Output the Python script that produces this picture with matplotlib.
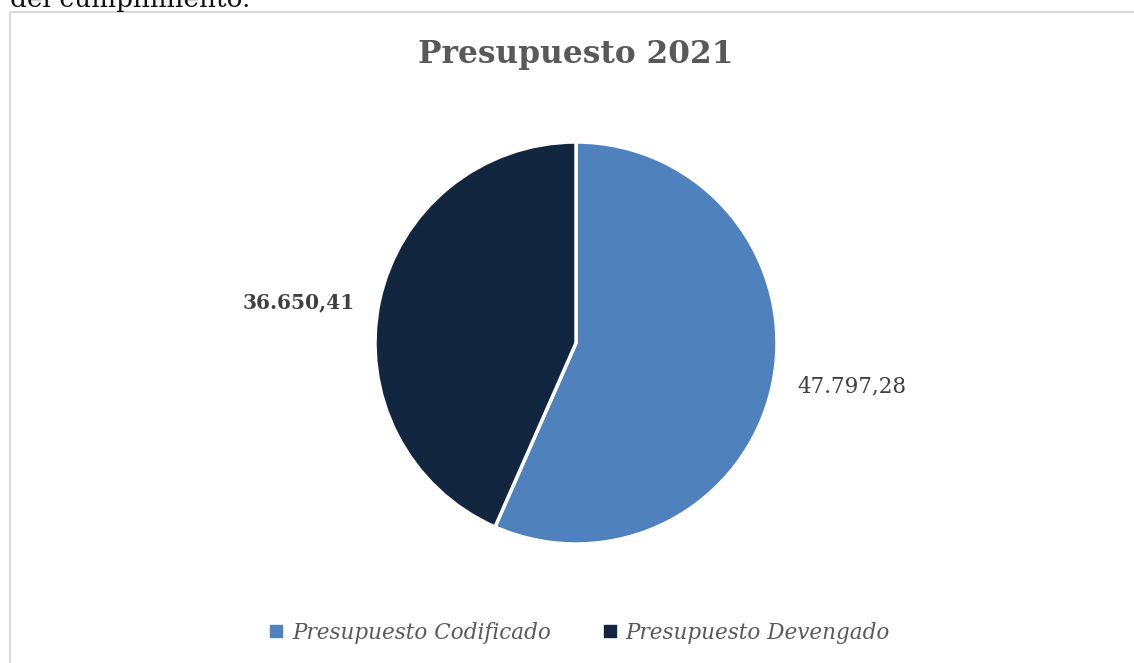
import matplotlib

matplotlib.use("Agg")

import matplotlib.pyplot as plt
from matplotlib.lines import Line2D
from matplotlib.patches import Rectangle

# data
categories = ["Presupuesto Codificado", "Presupuesto Devengado"]
values = [47797.28, 36650.41]
value_labels = ["47.797,28", "36.650,41"]
colors = ["#4f81bd", "#12263f"]

W, H = 1134, 663
plt.rcParams["font.family"] = ["DejaVu Serif"]

fig = plt.figure(figsize=(W / 100, H / 100), dpi=100)
ax = fig.add_axes([0, 0, 1, 1])

# chart frame (runs off the right and bottom edges of the crop)
ax.add_patch(Rectangle((9.5, 11.5), W, H, fill=False, edgecolor="#d9d9d9", linewidth=1.5))

# cut-off paragraph text above the chart, as in the source page
fig.text(10 / W, 1 - 7 / H, "del cumplimiento.", fontsize=19, color="#111111",
         va="baseline", ha="left")

# pie drawn in pixel-like coordinates; y axis is inverted so go counterclock
# in data space to get Excel's clockwise order on screen
wedges, _ = ax.pie(values, colors=colors, startangle=-90, counterclock=True,
                   center=(576, 343), radius=201, frame=True,
                   wedgeprops=dict(edgecolor="white", linewidth=2.5))
ax.set_xlim(0, W)
ax.set_ylim(H, 0)
ax.set_aspect("equal")
ax.axis("off")

ax.text(852, 386, value_labels[0], fontsize=15.5, color="#404040", ha="center", va="center")
ax.text(299, 302, value_labels[1], fontsize=14.5, color="#404040", ha="center", va="center",
        fontweight="bold")

ax.text(576, 54, "Presupuesto 2021", fontsize=22.5, color="#595959", ha="center",
        va="center", fontweight="bold")

handles = [Line2D([], [], marker="s", linestyle="none", markersize=8, color=c) for c in colors]
fig.legend(handles, categories, loc="center", bbox_to_anchor=(580 / W, 1 - 633 / H), ncol=2,
           frameon=False, handlelength=0.6, handletextpad=0.45, columnspacing=2.4,
           prop=dict(style="italic", size=15.5), labelcolor="#595959")

fig.savefig("out.png", dpi=100)
